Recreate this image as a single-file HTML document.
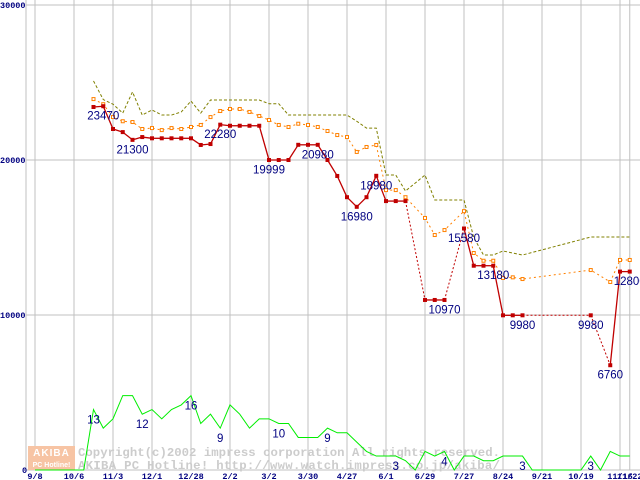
<!DOCTYPE html>
<html><head><meta charset="utf-8"><style>
html,body{margin:0;padding:0;background:#fff;}
svg{display:block;}
</style></head><body>
<svg id="chart" width="640" height="480" viewBox="0 0 640 480" xmlns="http://www.w3.org/2000/svg">
<g id="grid"></g>
<g id="wm">
  <rect x="28" y="446" width="47" height="24" fill="#f7c4a4"/>
  <text x="51.5" y="456" font-family="Liberation Sans, sans-serif" font-weight="bold" font-size="10" fill="#fff" text-anchor="middle" letter-spacing="1">AKIBA</text>
  <text x="51.5" y="467" font-family="Liberation Sans, sans-serif" font-weight="bold" font-size="7" fill="#fff" text-anchor="middle">PC Hotline!</text>
  <text x="78" y="456" font-family="Liberation Mono, monospace" font-weight="bold" font-size="12.3" fill="#cccccc" textLength="422">Copyright(c)2002 impress corporation All rights reserved.</text>
  <text x="78" y="469" font-family="Liberation Mono, monospace" font-weight="bold" font-size="12.3" fill="#cccccc" textLength="422">AKIBA PC Hotline!  http://www.watch.impress.co.jp/akiba/</text>
</g>
<g id="series"></g>
<g id="labels"></g>
<g id="axes"></g>
</svg>
<script>
const xTickWeeks = [0,4,8,12,16,20,24,28,32,36,40,44,48,52,56,60,61];
const xTickLabels = ["9/8","10/6","11/3","12/1","12/28","2/2","3/2","3/30","4/27","6/1","6/29","7/27","8/24","9/21","10/19","11/16","11/22"];
const yTicks = [0,10000,20000,30000];
const redWeeks = [6,7,8,9,10,11,12,13,14,15,16,17,18,19,20,21,22,23,24,25,26,27,28,29,30,31,32,33,34,35,36,37,38,40,41,42,44,45,46,47,48,49,50,57,59,60,61];
const redPrices = [23420,23470,22000,21800,21300,21480,21400,21400,21400,21400,21400,20970,21030,22280,22210,22210,22210,22210,19999,19999,19999,20980,20980,20980,20000,18970,17600,16980,17600,18980,17350,17350,17350,10970,10970,10970,15580,13180,13180,13180,9980,9980,9980,9980,6760,12800,12800];
const orangeWeeks = [6,7,8,9,10,11,12,13,14,15,16,17,18,19,20,21,22,23,24,25,26,27,28,29,30,31,32,33,34,35,36,37,38,40,41,42,44,45,46,47,48,49,50,57,59,60,61];
const orangePrices = [23930,23600,22770,22500,22450,22000,22060,21930,22060,22000,22130,22260,22770,23160,23290,23290,23100,22840,22580,22260,22130,22340,22260,22130,21870,21610,21480,20520,20840,20970,18060,18060,17600,16260,15160,15480,16700,14000,13500,13500,12390,12430,12320,12900,12130,13550,13550];
const oliveWeeks = [6,7,8,9,10,11,12,13,14,15,16,17,18,19,20,21,22,23,24,25,26,27,28,29,30,31,32,33,34,35,36,37,38,40,41,42,43,44,45,46,47,48,49,50,57,58,59,60,61];
const olivePrices = [25100,23900,23600,23030,24390,22900,23230,22900,22900,23100,23800,23030,23870,23870,23870,23870,23870,23870,23630,23630,22900,22900,22900,22900,22900,22900,22900,22500,22060,22060,19030,19030,18000,19030,17420,17420,17420,17420,15000,13870,13870,14130,14000,13870,15030,15030,15030,15030,15030];
const counts = [0,0,0,0,0,0,13,9,11,16,16,12,13,11,13,14,16,10,12,9,14,12,9,11,11,10,10,7,7,7,9,8,8,6,4,3,3,3,2,0,4,3,4,0,3,3,2,2,3,3,3,0,0,0,0,0,0,3,0,4,3,3];
const priceLabelWeeks = [7,10,19,24,29,33,35,42,44,47,50,57,59,61];
const priceLabelValues = [23470,21300,22280,19999,20980,16980,18980,10970,15580,13180,9980,9980,6760,12800];
const countLabelWeeks = [6,11,16,19,25,30,37,42,50,57];

const NS="http://www.w3.org/2000/svg";
const X = w => 35 + w*9.75;
const Y = v => 470 - v*0.0155;
const YC = c => Y(c*300);
function mk(parent, tag, attrs){const e=document.createElementNS(NS,tag);for(const k in attrs)e.setAttribute(k,attrs[k]);parent.appendChild(e);return e;}
const grid=document.getElementById('grid'), ser=document.getElementById('series'), lab=document.getElementById('labels'), axes=document.getElementById('axes');

yTicks.forEach(v=>{
  const l=mk(grid,'line',{x1:26,x2:640,y1:Y(v),y2:Y(v),stroke:'#c0c0c0','stroke-width':1});
  
  
  const t=mk(axes,'text',{x:v===0?22:0,y:Y(v)+3,'font-family':'Liberation Mono, monospace','font-weight':'bold','font-size':8.5,fill:'#000080'});
  t.textContent=String(v);
  
  
});
const ax=mk(grid,'line',{x1:26,x2:26,y1:0,y2:470,stroke:'#c0c0c0','stroke-width':1});


xTickWeeks.forEach((w,i)=>{
  const l=mk(grid,'line',{x1:X(w),x2:X(w),y1:0,y2:470,stroke:'#c0c0c0','stroke-width':1});
  
  
  const t=mk(axes,'text',{x:X(w),y:479,'text-anchor':'middle','font-family':'Liberation Mono, monospace','font-weight':'bold','font-size':8.5,fill:'#000080'});
  t.textContent=xTickLabels[i];
  
  
});

const cp=mk(ser,'polyline',{points:counts.map((c,i)=>X(i)+','+YC(c)).join(' '),fill:'none',stroke:'#00ee00','stroke-width':1});



const op=mk(ser,'polyline',{points:oliveWeeks.map((w,i)=>X(w)+','+Y(olivePrices[i])).join(' '),fill:'none',stroke:'#808000','stroke-width':1,'stroke-dasharray':'3,2'});



const orp=mk(ser,'polyline',{points:orangeWeeks.map((w,i)=>X(w)+','+Y(orangePrices[i])).join(' '),fill:'none',stroke:'#ff8000','stroke-width':1,'stroke-dasharray':'2,3'});


orangeWeeks.forEach((w,i)=>{
  const r=mk(ser,'rect',{x:X(w)-1.5,y:Y(orangePrices[i])-1.5,width:3,height:3,fill:'#fff',stroke:'#ff8000','stroke-width':1});
  
  
});

for(let i=1;i<redWeeks.length;i++){
  const gap=redWeeks[i]-redWeeks[i-1]>1;
  const s=mk(ser,'line',{x1:X(redWeeks[i-1]),y1:Y(redPrices[i-1]),x2:X(redWeeks[i]),y2:Y(redPrices[i]),stroke:'#c00000','stroke-width':gap?1:1.3,'stroke-dasharray':gap?'2,2':'none'});
  
  
}
redWeeks.forEach((w,i)=>{
  const r=mk(ser,'rect',{x:X(w)-2,y:Y(redPrices[i])-2,width:4,height:4,fill:'#c00000'});
  
  
});

priceLabelWeeks.forEach((w,i)=>{
  const t=mk(lab,'text',{x:X(w),y:Y(priceLabelValues[i])+13.5,'text-anchor':'middle','font-family':'Liberation Sans, sans-serif','font-size':11.5,fill:'#000080'});
  t.textContent=String(priceLabelValues[i]);
  
  
});
countLabelWeeks.forEach(w=>{
  const t=mk(lab,'text',{x:X(w),y:YC(counts[w])+14,'text-anchor':'middle','font-family':'Liberation Sans, sans-serif','font-size':11.5,fill:'#000080'});
  t.textContent=String(counts[w]);
  
  
});
</script>
</body></html>
